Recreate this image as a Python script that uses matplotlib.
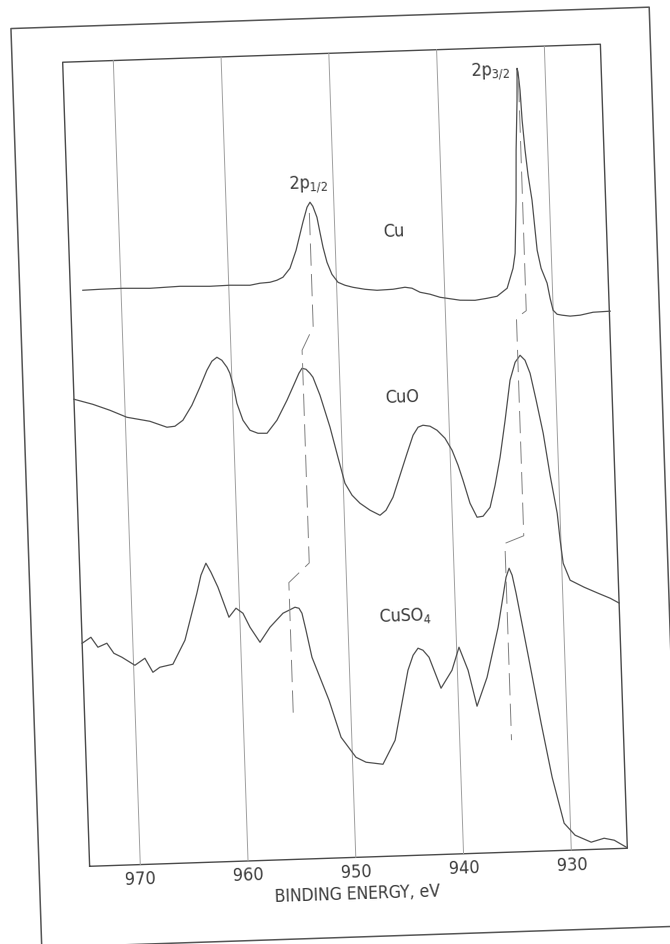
import matplotlib
matplotlib.use('Agg')
import matplotlib.pyplot as plt
from matplotlib.transforms import Affine2D

# Cu 2p XPS spectra of Cu, CuO and CuSO4 (intensity in arbitrary units,
# curves offset vertically)
cu_energy = [973.54, 971.96, 969.82, 967.32, 964.53, 961.75, 959.89, 958.03,
             957.10, 956.17, 955.52, 954.95, 954.27, 953.65, 952.93, 952.50,
             952.21, 951.96, 951.61, 951.38, 951.14, 950.82, 950.40, 949.86,
             949.22, 948.49, 947.38, 946.27, 944.79, 943.67, 943.02, 942.29,
             941.37, 940.45, 938.60, 937.21, 936.09, 935.16, 934.20, 933.59,
             933.35, 933.10, 932.94, 932.70, 932.62, 932.60, 932.52, 932.39,
             932.29, 932.11, 931.91, 931.62, 931.43, 931.30, 930.99, 930.48,
             930.25, 930.01, 929.65, 929.19, 928.45, 927.52, 926.31, 924.72]
cu_counts = [576.3, 576.7, 576.9, 576.0, 577.0, 576.0, 576.4, 575.7,
             577.4, 578.0, 579.8, 582.6, 591.3, 609.1, 636.9, 651.8,
             656.7, 652.6, 641.4, 626.3, 611.2, 596.1, 583.9, 575.7,
             572.5, 570.2, 567.8, 566.4, 566.9, 568.5, 567.3, 563.0,
             560.7, 557.3, 553.7, 553.1, 554.7, 556.4, 564.1, 583.9,
             598.8, 651.8, 701.8, 751.7, 776.7, 783.7, 779.7, 761.6,
             731.6, 701.5, 676.4, 651.3, 621.1, 601.1, 582.9, 567.8,
             552.7, 540.6, 536.4, 535.3, 534.1, 534.7, 537.2, 537.7]

cuo_energy = [974.70, 972.97, 971.41, 969.85, 967.73, 966.17, 965.43, 964.67,
              963.79, 962.99, 962.29, 961.80, 961.32, 960.87, 960.42, 960.17,
              959.84, 959.61, 959.10, 958.48, 957.75, 956.91, 955.95, 954.96,
              954.16, 953.77, 953.47, 953.10, 952.75, 952.48, 951.88, 951.05,
              950.41, 949.84, 949.22, 948.51, 947.60, 946.69, 946.12, 945.43,
              944.71, 943.99, 943.38, 942.89, 942.43, 941.78, 941.14, 940.43,
              939.81, 939.30, 938.89, 938.31, 937.70, 937.14, 936.46, 935.93,
              935.38, 934.80, 934.22, 933.69, 933.21, 932.77, 932.34, 931.86,
              931.31, 930.80, 930.26, 930.07, 929.86, 929.27, 927.99, 926.71,
              925.61, 924.80]
cuo_counts = [467.6, 461.9, 455.4, 447.8, 443.0, 436.5, 437.2, 442.9,
              457.6, 475.4, 492.1, 501.0, 504.8, 501.6, 494.5, 488.4,
              473.2, 458.1, 440.9, 430.7, 427.4, 427.1, 439.8, 459.4,
              477.2, 486.0, 490.9, 489.8, 485.7, 481.6, 463.3, 431.0,
              400.7, 374.5, 362.3, 354.0, 346.7, 341.3, 346.1, 358.9,
              380.7, 402.4, 420.2, 428.1, 429.9, 428.7, 424.4, 416.2,
              403.9, 388.7, 373.6, 350.3, 336.1, 336.9, 345.6, 367.5,
              395.3, 432.1, 472.0, 489.8, 496.6, 491.5, 478.3, 451.1,
              417.9, 375.6, 337.4, 310.3, 287.2, 270.0, 262.5, 256.0,
              250.6, 245.5]

cuso4_energy = [974.70, 973.87, 973.25, 972.41, 971.79, 971.06, 969.88, 968.93,
                968.23, 967.57, 966.35, 965.16, 963.91, 963.48, 962.98, 962.54,
                961.94, 961.01, 960.33, 959.70, 959.09, 958.21, 957.24, 955.99,
                955.42, 954.86, 954.49, 954.23, 953.91, 953.44, 951.99, 950.99,
                949.67, 948.75, 947.19, 945.99, 944.58, 944.06, 943.58, 943.13,
                942.59, 941.57, 940.50, 939.78, 939.01, 938.29, 937.27, 936.09,
                935.20, 934.89, 934.63, 934.32, 933.32, 932.40, 931.55, 930.58,
                929.60, 928.13, 926.92, 925.99, 924.80]
cuso4_counts = [223.3, 229.0, 218.8, 222.5, 212.2, 208.0, 199.5, 206.2,
                191.9, 196.7, 199.3, 222.9, 269.5, 287.3, 299.2, 290.0,
                274.8, 244.4, 253.2, 247.9, 233.7, 218.3, 233.0, 246.6,
                249.4, 252.2, 251.0, 245.9, 228.8, 201.6, 158.0, 120.6,
                100.1, 94.8, 92.2, 115.8, 185.4, 200.2, 207.1, 204.9,
                197.7, 166.3, 183.9, 206.7, 183.4, 147.1, 175.7, 225.4,
                275.1, 284.0, 276.9, 258.8, 191.3, 127.9, 73.6, 27.2,
                14.8, 7.3, 10.8, 8.5, 0.5]

# peak-position guide lines (energy, counts)
p12_energy = [952.3, 952.3, 953.4, 953.4, 955.35, 955.35]
p12_counts = [646, 532, 509, 296, 277, 144]
p32_energy = [932.5, 932.5, 933.43, 933.43, 935.2, 935.2]
p32_counts = [772, 541, 534, 316, 309, 112]

grid_energy = [970, 960, 950, 940, 930]
tick_labels = ['970', '960', '950', '940', '930']

labels = ['Cu', 'CuO', r'CuSO$_4$']
label_energy = [944.5, 944.3, 944.7]
label_counts = [624, 458, 240]

plt.rcParams['font.family'] = 'DejaVu Sans'
plt.rcParams['font.stretch'] = 'condensed'
plt.rcParams['mathtext.fontset'] = 'custom'
plt.rcParams['mathtext.rm'] = 'DejaVu Sans:stretch=condensed'
plt.rcParams['mathtext.it'] = 'DejaVu Sans:stretch=condensed'
plt.rcParams['lines.scale_dashes'] = False

W, H = 670, 944
fig = plt.figure(figsize=(W / 100, H / 100), dpi=100)
fig.patch.set_facecolor('white')
ax = fig.add_axes([76 / W, 86.5 / H, 538 / W, 804.5 / H])
ax.set_xlim(974.7, 924.8)
ax.set_ylim(0, 805)
ax.axis('off')

# the page sits slightly tilted
tilt = 1.92
rot = Affine2D().rotate_deg_around(345, H - 455.25, tilt)
td = ax.transData + rot
ta = ax.transAxes + rot

ink = '#3c3c3c'
txt = dict(color=ink, rotation=tilt, rotation_mode='anchor',
           ha='center', va='center', transform=td)

# outer page frame and plot box
ax.plot([-0.094, 1.093, 1.093, -0.094, -0.094],
        [-0.099, -0.099, 1.044, 1.044, -0.099],
        color='#555555', lw=1.1, transform=ta, clip_on=False)
ax.plot([0, 1, 1, 0, 0], [0, 0, 1, 1, 0], color='#4a4a4a', lw=1.0,
        transform=ta, clip_on=False)

for e, lab in zip(grid_energy, tick_labels):
    ax.plot([e, e], [0, 805], color='#a0a0a0', lw=0.7, transform=td,
            clip_on=False)
    ax.text(e, -15, lab, fontsize=13, **txt)

ax.text(950.0, -37, 'BINDING ENERGY, eV', fontsize=12.5, **txt)

for en, ct in [(cu_energy, cu_counts), (cuo_energy, cuo_counts),
               (cuso4_energy, cuso4_counts)]:
    ax.plot(en, ct, color='#505050', lw=0.9, transform=td, clip_on=False,
            solid_joinstyle='round')

for en, ct in [(p12_energy, p12_counts), (p32_energy, p32_counts)]:
    ax.plot(en, ct, color='#808080', lw=0.7, dashes=(16, 6), transform=td,
            clip_on=False)

for lab, e, c in zip(labels, label_energy, label_counts):
    ax.text(e, c, lab, fontsize=13, **txt)

ax.text(952.34, 674, r'2p$_{\mathrm{1/2}}$', fontsize=13, **txt)
ax.text(935.1, 781, r'2p$_{\mathrm{3/2}}$', fontsize=13, **txt)

fig.savefig('out.png', dpi=100)
